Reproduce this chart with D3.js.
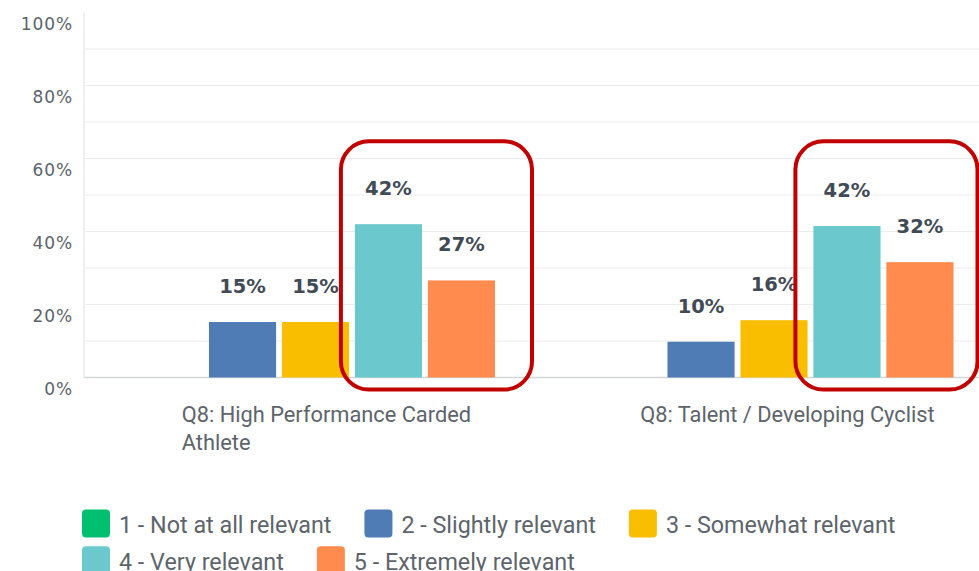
<!DOCTYPE html>
<html lang="en">
<head>
    <meta charset="UTF-8">
    <title>Q8 relevance</title>
    <script src="https://cdn.jsdelivr.net/npm/d3@7"></script>
    <style>
        body { margin: 0; background: #fff; }
        svg { display: block; }
    </style>
</head>
<body>
    <div id="chart"></div>
    <script>
        // data
        const groups = ["Q8: High Performance Carded Athlete", "Q8: Talent / Developing Cyclist"];
        const series = ["1 - Not at all relevant", "2 - Slightly relevant", "3 - Somewhat relevant", "4 - Very relevant", "5 - Extremely relevant"];
        const colors = ["#00bf6f", "#507cb6", "#f9be00", "#6bc8cd", "#ff8b4f"];
        const highPerformance = [0, 15.2, 15.2, 42.0, 26.6];
        const talent = [0, 9.8, 15.7, 41.5, 31.6];
        const yTicks = [0, 20, 40, 60, 80, 100];
        const gridTicks = [10, 20, 30, 40, 50, 60, 70, 80, 90];
        // hand drawn red boxes around answers 4 and 5
        const highlights = [
            { group: groups[0], padLeft: 14, padRight: 37 },
            { group: groups[1], padLeft: 18, padRight: 24 }
        ];

        const rows = groups.map((g, i) => ({
            group: g,
            values: [highPerformance, talent][i]
        }));

        const width = 979;
        const height = 571;
        const svg = d3.select("#chart")
            .append("svg")
            .attr("width", width)
            .attr("height", height);

        const x0 = d3.scaleBand()
            .domain(groups)
            .range([86, 1003]);
        const x1 = d3.scaleBand()
            .domain(series)
            .range([50, 409])
            .paddingInner(0.08);
        const y = d3.scaleLinear()
            .domain([0, 100])
            .range([377.5, 12.5]);
        const color = d3.scaleOrdinal().domain(series).range(colors);

        // grid
        svg.append("g")
            .selectAll("line")
            .data(gridTicks)
            .join("line")
            .attr("x1", 85)
            .attr("x2", width)
            .attr("y1", d => y(d))
            .attr("y2", d => y(d))
            .attr("stroke", "#ececec")
            .attr("stroke-width", 1);

        svg.append("line")
            .attr("x1", 84).attr("x2", 84)
            .attr("y1", y(100)).attr("y2", y(0))
            .attr("stroke", "#dcdfe1");
        svg.append("line")
            .attr("x1", 84).attr("x2", width)
            .attr("y1", y(0)).attr("y2", y(0))
            .attr("stroke", "#d3d6d8")
            .attr("stroke-width", 1.5);

        // y labels sit a bit below their gridline
        svg.append("g")
            .selectAll("text")
            .data(yTicks)
            .join("text")
            .attr("x", 73)
            .attr("y", d => y(d) + 17)
            .attr("text-anchor", "end")
            .attr("font-family", "DejaVu Sans")
            .attr("font-size", 17)
            .attr("letter-spacing", 0.9)
            .attr("fill", "#5c636a")
            .text(d => d + "%");

        // bars
        const bars = svg.append("g")
            .selectAll("g")
            .data(rows)
            .join("g")
            .attr("transform", d => `translate(${x0(d.group)},0)`);

        bars.selectAll("rect")
            .data(d => d.values.map((v, i) => ({ key: series[i], value: v })))
            .join("rect")
            .attr("x", d => x1(d.key))
            .attr("y", d => y(d.value))
            .attr("width", x1.bandwidth())
            .attr("height", d => y(0) - y(d.value))
            .attr("fill", d => color(d.key));

        bars.selectAll("text")
            .data(d => d.values.map((v, i) => ({ key: series[i], value: v })).filter(d => d.value > 0))
            .join("text")
            .attr("x", d => x1(d.key) + x1.bandwidth() / 2)
            .attr("y", d => y(d.value) - 29)
            .attr("text-anchor", "middle")
            .attr("font-family", "DejaVu Sans")
            .attr("font-weight", "bold")
            .attr("font-size", 19.5)
            .attr("fill", "#414b55")
            .text(d => Math.round(d.value) + "%");

        // category labels, wrapped, left aligned
        const xl = svg.append("g")
            .selectAll("text")
            .data(groups)
            .join("text")
            .attr("x", d => x0(d) + x0.bandwidth() / 2 - 133.5)
            .attr("y", 421.5)
            .attr("font-family", "Roboto")
            .attr("font-size", 21.8)
            .attr("fill", "#5d646b");
        xl.each(function (d) {
            const t = d3.select(this);
            const words = d.split(" ");
            let line = [];
            let tspan = t.append("tspan").attr("x", t.attr("x")).attr("dy", 0);
            words.forEach(w => {
                line.push(w);
                tspan.text(line.join(" "));
                if (tspan.node().getComputedTextLength() > 330 && line.length > 1) {
                    line.pop();
                    tspan.text(line.join(" "));
                    line = [w];
                    tspan = t.append("tspan").attr("x", t.attr("x")).attr("dy", 28.5).text(w);
                }
            });
        });

        // red highlight boxes
        svg.append("g")
            .selectAll("rect")
            .data(highlights)
            .join("rect")
            .attr("x", d => x0(d.group) + x1(series[3]) - d.padLeft)
            .attr("y", y(64.7))
            .attr("width", d => x1(series[4]) + x1.bandwidth() - x1(series[3]) + d.padLeft + d.padRight)
            .attr("height", y(-3.3) - y(64.7))
            .attr("rx", 28)
            .attr("fill", "none")
            .attr("stroke", "#c00000")
            .attr("stroke-width", 4);

        // legend, flows into rows
        const legend = svg.append("g");
        let lx = 82, ly = 509.5;
        series.forEach((s, i) => {
            const item = legend.append("g");
            item.append("rect")
                .attr("width", 28)
                .attr("height", 28)
                .attr("rx", 4)
                .attr("fill", colors[i]);
            const txt = item.append("text")
                .attr("x", 37)
                .attr("y", 23.5)
                .attr("font-family", "Roboto")
                .attr("font-size", 23.3)
                .attr("fill", "#5d646b")
                .text(s);
            const w = 37 + txt.node().getComputedTextLength();
            if (lx + w > 960) {
                lx = 82;
                ly += 36.7;
            }
            item.attr("transform", `translate(${lx},${ly})`);
            lx += w + 33;
        });
    </script>
</body>
</html>
